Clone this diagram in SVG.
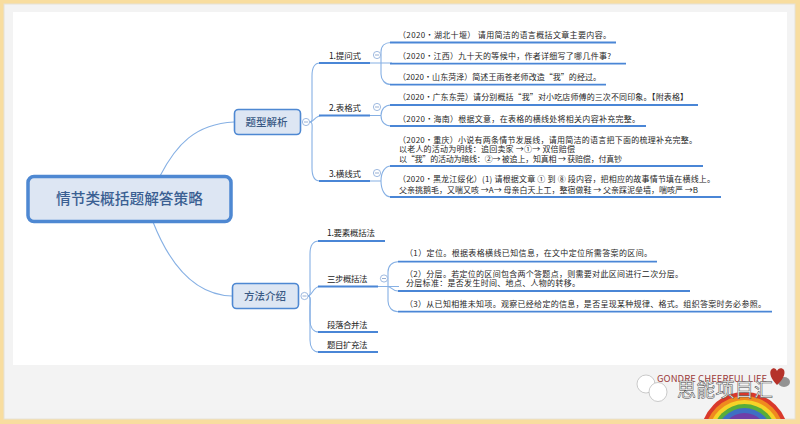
<svg xmlns="http://www.w3.org/2000/svg" width="800" height="424" viewBox="0 0 800 424">
<style>
text{font-family:"Noto Sans CJK SC","Noto Sans",sans-serif;}
.t{font-size:8px;fill:#262626;}
.b{font-size:8.5px;fill:#222;}
.n{font-size:10.5px;font-weight:500;fill:#3a5a85;text-anchor:middle;}
.c{fill:none;stroke:#86b0e4;stroke-width:1.1;}
.u{fill:none;stroke:#4a86d6;stroke-width:1.8;}
.box{fill:#dde6f3;stroke:#4e88d2;stroke-width:1.6;}
.m{fill:#fff;stroke:#86a8d8;stroke-width:.8;}
.d{fill:none;stroke:#6a8cc0;stroke-width:.7;}
</style>
<rect width="800" height="424" fill="#f8dd9f"/>
<rect x="4" y="4" width="791" height="415" fill="#f3f3f3" stroke="#e6e2d6" stroke-width="1"/>
<rect x="13" y="12" width="774" height="353" fill="#fff"/>

<g id="connectors">
<path class="c" d="M160,176C176,145 195,124 234,122"/>
<path class="c" d="M153,222C170,265 195,295 232,296"/>
<path class="c" d="M310,122C313,122 312,118 312,110L312,76C312,68 314,63 320,63"/>
<path class="c" d="M310,122C314,122 315,115.500 322,115.500"/>
<path class="c" d="M310,122C313,122 312,126 312,134L312,168C312,176 314,181 320,181"/>
<path class="c" d="M308,296C311,296 310,292 310,284L310,254C310,246 312,241 319,241"/>
<path class="c" d="M308,296C312,296 313,286.500 320,286.500"/>
<path class="c" d="M308,296C311,296 310,300 310,308L310,320C310,327 313,332 319,332"/>
<path class="c" d="M308,296C311,296 310,300 310,308L310,340C310,347 313,352 319,352"/>
<path class="c" d="M370,63H392M381,63L381,52C381,46 385,42.500 391,42.500M381,63L381,74C381,80 385,84.500 391,84.500"/>
<path class="c" d="M370,115.500H381C381,109 385,105 391,105M381,115.500C381,122 385,126 391,126"/>
<path class="c" d="M370,181H381C381,172 385,166 391,166M381,181C381,190 385,197 391,197"/>
<path class="c" d="M378,286.500H399M388,286.500L388,272C388,266 392,261.700 398,261.700M388,286.500C391,286.500 392,291 398,291M388,286.500L388,301C388,307 392,311.700 398,311.700"/>
<path class="u" d="M319,63H370M319,115.500H370M319,181H370"/>
<path class="u" d="M318,241H385M318,286.500H378M318,332H378M318,352H378"/>
<path class="u" d="M390,42.500H616M390,63.700H626M390,84.700H606M390,105H698M390,126H646M390,166H703M390,197H721"/>
<path class="u" d="M398,261.700H657M398,291H690M398,311.700H772"/>
</g>

<g id="root"><rect x="28" y="176.500" width="203" height="45" rx="6" fill="#dde6f3" stroke="#4e88d2" stroke-width="3.500"/>
<text x="129.500" y="204" font-size="14.700" font-weight="500" fill="#3a5f92" text-anchor="middle">情节类概括题解答策略</text></g>

<g id="node-types"><rect class="box" x="234.500" y="109.500" width="66" height="25" rx="4"/><text class="n" x="266.500" y="126">题型解析</text>
<circle class="m" cx="306" cy="122" r="3.600"/><path class="d" d="M304,122H308"/></g>
<g id="node-methods"><rect class="box" x="232.500" y="283.500" width="66" height="25" rx="4"/><text class="n" x="265" y="300">方法介绍</text>
<circle class="m" cx="304.500" cy="296" r="3.600"/><path class="d" d="M302.500,296H306.500"/></g>

<g id="b1"><text class="b" x="329" y="59" textLength="32">1.提问式</text><circle class="m" cx="377" cy="55" r="3.600"/><path class="d" d="M375,55H379"/></g>
<g id="b2"><text class="b" x="329" y="111" textLength="32">2.表格式</text><circle class="m" cx="377" cy="107" r="3.600"/><path class="d" d="M375,107H379"/></g>
<g id="b3"><text class="b" x="329" y="177" textLength="32">3.横线式</text><circle class="m" cx="377" cy="173" r="3.600"/><path class="d" d="M375,173H379"/></g>
<g id="b4"><text class="b" x="327" y="236" textLength="48">1.要素概括法</text></g>
<g id="b5"><text class="b" x="327" y="282" textLength="40.500">三步概括法</text><circle class="m" cx="384" cy="278.500" r="3.600"/><path class="d" d="M382,278.500H386"/></g>
<g id="b6"><text class="b" x="327" y="328" textLength="40.500">段落合并法</text></g>
<g id="b7"><text class="b" x="327" y="348" textLength="40.500">题目扩充法</text></g>

<g id="s1"><text class="t" x="398" y="38" textLength="213">（2020·湖北十堰） 请用简洁的语言概括文章主要内容。</text></g>
<g id="s2"><text class="t" x="398" y="59" textLength="213">（2020·江西）九十天的等候中，作者详细写了哪几件事?</text></g>
<g id="s3"><text class="t" x="398" y="80" textLength="203">（2020·山东菏泽）简述王雨苍老师改造“我”的经过。</text></g>
<g id="s4"><text class="t" x="398" y="100" textLength="290">（2020·广东东莞）请分别概括“我”对小吃店师傅的三次不同印象。【附表格】</text></g>
<g id="s5"><text class="t" x="398" y="122" textLength="242">（2020·海南）根据文意，在表格的横线处将相关内容补充完整。</text></g>
<g id="s6"><text class="t" x="398" y="143" textLength="299">（2020·重庆）小说有两条情节发展线，请用简洁的语言把下面的梳理补充完整。</text>
<text class="t" x="399" y="152" textLength="176">以老人的活动为明线：追回卖家 →①→ 双倍赔偿</text>
<text class="t" x="399" y="162" textLength="223">以“我”的活动为暗线：②→ 被追上，知真相 → 获赔偿，付真钞</text></g>
<g id="s7"><text class="t" x="398" y="182" textLength="317">（2020·黑龙江绥化）(1) 请根据文章 ① 到 ⑧ 段内容，把相应的故事情节填在横线上。</text>
<text class="t" x="399" y="193" textLength="299">父亲挑鹅毛，又喘又咳 →A→ 母亲白天上工，整宿做鞋 → 父亲踩泥垒墙，喘咳严 →B</text></g>
<g id="s8"><text class="t" x="405" y="256" textLength="247">（1）定位。根据表格横线已知信息，在文中定位所需答案的区间。</text></g>
<g id="s9"><text class="t" x="405" y="277" textLength="278">（2）分层。若定位的区间包含两个答题点，则需要对此区间进行二次分层。</text>
<text class="t" x="406" y="286" textLength="174">分层标准：是否发生时间、地点、人物的转移。</text></g>
<g id="s10"><text class="t" x="405" y="307" textLength="361">（3）从已知相推未知项。观察已经给定的信息，是否呈现某种规律、格式。组织答案时务必参照。</text></g>

<clipPath id="rc"><rect x="690" y="385" width="100" height="34"/></clipPath>
<g clip-path="url(#rc)">
<circle cx="744.500" cy="436" r="44" fill="#d9392b"/><circle cx="744.500" cy="436" r="40" fill="#ef8a1f"/><circle cx="744.500" cy="436" r="36" fill="#f5d327"/><circle cx="744.500" cy="436" r="32" fill="#58ad3a"/><circle cx="744.500" cy="436" r="28" fill="#3f6fc4"/><circle cx="744.500" cy="436" r="23" fill="#6f3fa8"/>
</g>
<ellipse cx="784" cy="382" rx="6" ry="5" fill="#444" opacity=".55"/>
<path d="M777,385C771,379 769,373 771,370C773,367 776,368 777,371C778,368 782,367 784,370C786,374 782,381 777,385Z" fill="#b5322a"/>
<text x="657" y="382" font-size="9.500" fill="#9c3a3a" font-family="Liberation Sans" textLength="110">GONDRE CHEERFUL LIFE</text>
<ellipse cx="646" cy="384" rx="9" ry="9" fill="#fff" stroke="#aaa" stroke-width=".6"/>
<ellipse cx="658" cy="392" rx="9" ry="9.500" fill="#fff" stroke="#aaa" stroke-width=".6"/>
<text x="677" y="397" font-size="19" fill="#fff" stroke="#444" stroke-width=".5" textLength="96">思能项目汇</text>
</svg>
